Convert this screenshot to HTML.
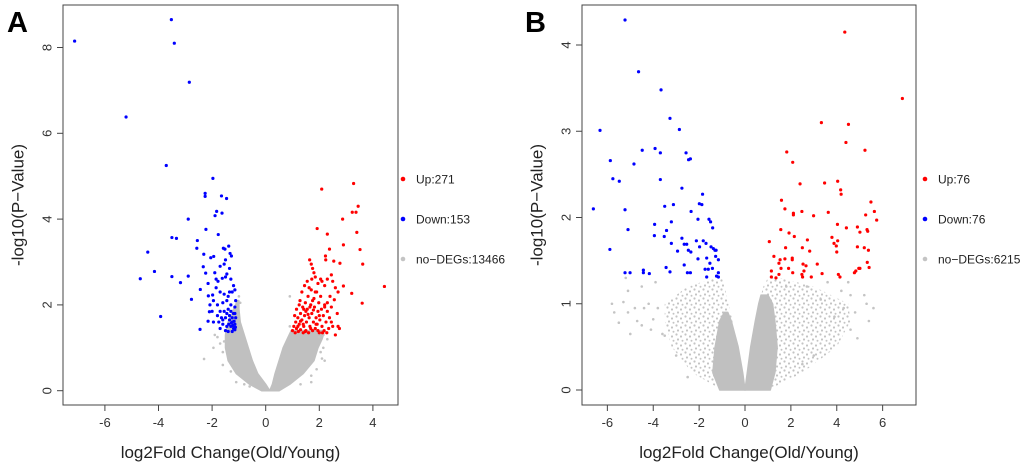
<!DOCTYPE html>
<html><head><meta charset="utf-8"><style>
html,body{margin:0;padding:0;background:#fff;}
svg{display:block;font-family:"Liberation Sans",Arial,sans-serif;}
</style></head><body>
<svg id="fig" width="1020" height="465" viewBox="0 0 1020 465">
<defs>
<pattern id="dotsB" width="9" height="9" patternUnits="userSpaceOnUse"><circle cx="1.5" cy="1.5" r="1.1" fill="#c4c4c4"/><circle cx="6" cy="3.5" r="1.1" fill="#c4c4c4"/><circle cx="3" cy="6.5" r="1.1" fill="#c4c4c4"/><circle cx="7.5" cy="7.8" r="1" fill="#c4c4c4"/></pattern>
</defs>
</svg>
<script>
// ---------- Panel A data ----------
const aXTicks = [-6,-4,-2,0,2,4];
const aYTicks = [0,2,4,6,8];
const aBlue = [[-7.13,8.15],[-3.52,8.65],[-3.41,8.10],[-2.85,7.19],[-5.21,6.38],[-3.71,5.25],[-1.97,4.95],[-2.26,4.6],[-2.26,4.53],[-1.65,4.54],[-1.46,4.48],[-1.83,4.18],[-1.63,4.14],[-1.89,4.08],[-2.89,4.0],[-2.23,3.76],[-1.77,3.64],[-4.40,3.23],[-3.50,3.57],[-3.33,3.55],[-2.55,3.5],[-2.57,3.32],[-2.31,3.18],[-2.05,3.10],[-1.94,3.13],[-1.38,3.37],[-1.58,3.32],[-1.52,3.3],[-1.33,3.2],[-1.28,3.14],[-4.15,2.78],[-4.68,2.61],[-3.50,2.66],[-3.18,2.52],[-2.89,2.67],[-2.77,2.13],[-3.92,1.73],[-2.45,1.43],[-2.15,1.62],[-2.33,2.89],[-2.24,2.74],[-2.44,2.36],[-2.14,2.21],[-1.98,2.23],[-2.08,2.0],[-2.1,1.84],
[-1.85,2.6],[-1.78,2.55],[-1.62,2.62],[-1.5,2.65],[-1.45,2.72],[-1.3,2.6],[-1.2,2.45],[-1.15,2.35],[-1.25,2.3],[-1.35,2.3],[-1.4,2.2],[-1.55,2.25],[-1.7,2.3],[-1.85,2.4],[-1.95,2.1],[-1.8,2.0],[-1.6,2.05],[-1.45,2.1],[-1.3,2.0],[-1.15,1.95],[-1.12,2.1],[-1.2,1.8],[-1.3,1.85],[-1.4,1.9],[-1.55,1.85],[-1.7,1.85],[-1.8,1.75],[-1.65,1.7],[-1.5,1.7],[-1.35,1.65],[-1.25,1.6],[-1.15,1.55],[-1.12,1.7],[-1.2,1.45],[-1.3,1.5],[-1.45,1.5],[-1.6,1.55],[-1.75,1.6],[-1.4,1.38],[-1.25,1.38],[-1.15,1.42],[-1.5,1.4],[-1.35,1.75],[-1.25,1.7],[-1.15,1.8],[-1.95,1.6],[-2.0,1.85],[-1.7,2.9],[-1.55,2.95],[-1.35,2.85],[-1.5,3.05],[-1.9,2.75],[-2.15,2.5],[-1.7,1.45],[-1.18,1.62],[-1.22,1.52],[-1.28,1.58],[-1.13,1.48],[-1.38,1.55],[-1.6,1.65],[-1.45,1.8]];
const aRed = [[2.09,4.70],[3.28,4.83],[3.45,4.30],[3.23,4.16],[3.37,4.16],[2.87,4.0],[1.92,3.78],[2.30,3.65],[3.40,3.69],[2.38,3.30],[2.90,3.40],[3.52,3.29],[2.23,3.14],[2.24,3.05],[2.54,3.02],[3.62,2.95],[2.77,2.97],[1.64,3.05],[4.43,2.43],[3.21,2.27],[3.60,2.04],[2.67,1.80],[2.90,2.44],[2.56,2.12],[1.7,2.95],[1.75,2.85],[1.8,2.75],[1.85,2.65],[1.95,2.5],[2.05,2.6],[2.1,2.55],[2.2,2.45],[2.3,2.6],[2.45,2.7],[2.5,2.55],[2.6,2.4],[2.7,2.3],[2.4,2.2],[2.3,2.05],[2.2,1.95],[2.45,1.95],[2.7,1.5],[2.75,1.45],[2.6,1.3],[2.5,1.5],[2.45,1.6],
[1.0,1.4],[1.05,1.5],[1.1,1.35],[1.12,1.6],[1.15,1.45],[1.2,1.7],[1.22,1.38],[1.25,1.55],[1.3,1.8],[1.3,1.42],[1.35,1.65],[1.38,1.95],[1.4,1.35],[1.42,1.5],[1.45,1.75],[1.48,2.05],[1.5,1.4],[1.52,1.6],[1.55,1.9],[1.58,2.2],[1.6,1.35],[1.62,1.7],[1.65,1.5],[1.68,2.0],[1.7,2.35],[1.72,1.8],[1.75,1.4],[1.78,1.6],[1.8,2.15],[1.82,1.95],[1.85,1.45],[1.88,1.7],[1.9,2.3],[1.92,1.55],[1.95,1.85],[1.98,2.05],[2.0,1.35],[2.02,1.65],[2.05,2.2],[2.08,1.9],[2.1,1.5],[2.15,1.75],[2.18,1.4],[2.2,2.0],[2.25,1.6],[2.3,1.85],[2.35,1.45],[2.38,1.7],[1.28,2.1],[1.35,2.3],[1.45,2.45],[1.55,2.55],[1.62,2.4],[1.72,2.6],[1.15,1.9],[1.25,2.0],[1.4,1.55],[1.5,1.85],[1.65,1.95],[1.75,2.1],[1.85,2.3],[1.95,1.4],[2.12,1.35],[1.08,1.75],[1.3,1.62],[1.48,1.38],[1.58,1.78],[1.68,1.45],[1.78,1.88],[1.88,1.55],[2.0,1.75],[2.28,1.35],[1.2,1.5],[1.42,1.9]];
const aLeftArmY = [0,0.15,0.4,0.7,1.0,1.3,1.6,1.9,2.1];
const aLeftArmOut = [-0.15,-0.6,-1.1,-1.4,-1.5,-1.5,-1.4,-1.2,-1.05];
const aLeftArmIn = [0.15,0.0,-0.3,-0.5,-0.65,-0.8,-0.95,-1.0,-1.0];
const aRightArmY = [0,0.15,0.4,0.7,1.0,1.2,1.4];
const aRightArmIn = [0.15,0.25,0.35,0.5,0.65,0.8,0.95];
const aRightArmOut = [0.5,0.9,1.4,1.8,1.95,2.1,2.2];
const aGrey = [[-2.3,0.74],[-1.95,1.0],[-1.9,1.3],[-1.8,1.25],[-1.7,1.1],[-1.6,0.9],[-1.6,0.6],[-1.3,0.45],[-1.1,0.2],[-0.8,0.15],[-0.6,0.1],[0.9,2.2],[0.9,1.5],[2.15,1.3],[2.15,1.0],[2.2,0.7],[2.1,0.75],[1.9,0.5],[1.7,0.2],[1.3,0.15],[2.0,1.25],[1.1,1.4],[-1.0,2.2],[-0.95,2.05],[1.7,0.35],[-1.55,1.15],[2.3,1.2],[2.05,0.9]];
// ---------- Panel B data ----------
const bXTicks = [-6,-4,-2,0,2,4,6];
const bYTicks = [0,1,2,3,4];
const bBlue = [[-5.23,4.29],[-4.64,3.69],[-3.66,3.48],[-3.27,3.15],[-2.86,3.02],[-6.32,3.01],[-3.92,2.80],[-3.69,2.75],[-4.48,2.78],[-2.57,2.75],[-2.38,2.68],[-2.46,2.67],[-5.87,2.66],[-4.84,2.62],[-5.76,2.45],[-5.48,2.42],[-3.69,2.44],[-2.75,2.34],[-1.85,2.27],[-1.99,2.16],[-1.88,2.15],[-3.50,2.13],[-3.12,2.15],[-6.61,2.10],[-5.23,2.09],[-2.35,2.07],[-2.05,1.98],[-1.57,1.98],[-1.50,1.95],[-3.94,1.92],[-3.21,1.95],[-1.41,1.88],[-5.10,1.86],[-3.42,1.85],[-3.95,1.79],[-3.52,1.78],[-2.75,1.76],[-3.21,1.70],[-2.65,1.69],[-2.54,1.69],[-2.12,1.73],[-1.82,1.73],[-1.70,1.70],[-1.98,1.66],[-1.48,1.66],[-1.38,1.64],[-1.31,1.62],[-1.26,1.62],[-5.89,1.63],[-2.94,1.61],[-2.47,1.62],[-2.36,1.60],[-1.28,1.55],[-1.16,1.51],[-2.05,1.52],[-1.67,1.53],[-1.53,1.47],[-2.65,1.45],[-3.44,1.42],[-1.42,1.41],[-1.74,1.40],[-1.60,1.40],[-4.43,1.39],[-4.43,1.36],[-4.17,1.35],[-3.27,1.37],[-5.23,1.36],[-5.01,1.36],[-2.51,1.36],[-2.38,1.36],[-1.16,1.36],[-1.67,1.31],[-1.24,1.32],[-1.16,1.31]];
const bRed = [[4.35,4.15],[6.86,3.38],[3.33,3.10],[4.51,3.08],[4.40,2.87],[1.82,2.76],[5.23,2.78],[2.08,2.64],[2.40,2.39],[3.47,2.40],[4.04,2.42],[4.17,2.32],[4.19,2.27],[1.59,2.20],[5.49,2.18],[1.74,2.10],[2.11,2.05],[2.11,2.03],[2.48,2.07],[3.63,2.06],[5.26,2.03],[5.64,2.07],[5.74,1.97],[2.99,2.02],[4.03,1.92],[4.42,1.88],[4.90,1.89],[1.56,1.86],[5.01,1.83],[5.32,1.86],[5.35,1.84],[1.92,1.82],[2.15,1.78],[3.79,1.77],[2.72,1.74],[4.04,1.73],[1.06,1.72],[3.88,1.70],[3.98,1.67],[1.77,1.65],[2.50,1.65],[4.90,1.66],[5.20,1.65],[2.82,1.61],[5.38,1.62],[4.00,1.60],[1.26,1.55],[2.06,1.53],[2.06,1.51],[1.53,1.51],[1.74,1.52],[1.48,1.47],[2.53,1.46],[3.15,1.46],[2.66,1.44],[1.90,1.41],[1.57,1.41],[5.33,1.48],[5.41,1.42],[4.96,1.41],[5.01,1.41],[4.83,1.38],[4.77,1.36],[1.15,1.38],[2.57,1.38],[2.08,1.36],[3.36,1.35],[2.48,1.34],[2.51,1.31],[1.48,1.34],[1.15,1.31],[2.89,1.31],[1.35,1.30],[4.07,1.34],[4.14,1.31]];
const bSparseLeftY = [0,0.2,0.5,0.8,1.0,1.2,1.3];
const bSparseLeftOut = [-1.0,-2.3,-3.2,-3.5,-3.5,-2.5,-1.3];
const bSparseLeftIn = [0.0,-0.1,-0.3,-0.55,-0.7,-0.9,-1.0];
const bSparseRightY = [0,0.2,0.5,0.8,1.0,1.2,1.3];
const bSparseRightIn = [0.0,0.1,0.25,0.45,0.6,0.8,1.0];
const bSparseRightOut = [1.0,2.5,4.0,4.6,4.5,3.0,1.5];
const bDenseLeftY = [0,0.2,0.5,0.8,0.9];
const bDenseLeftOut = [-1.1,-1.4,-1.3,-1.1,-0.9];
const bDenseLeftIn = [0,-0.1,-0.3,-0.6,-0.75];
const bDenseRightY = [0,0.2,0.5,0.8,1.0,1.1];
const bDenseRightIn = [0.0,0.1,0.25,0.45,0.6,0.7];
const bDenseRightOut = [1.1,1.3,1.4,1.3,1.2,1.0];
const bGrey = [[-5.8,1.0],[-5.5,0.78],[-5.3,1.02],[-5.1,0.9],[-5.1,1.15],[-5.0,0.65],[-4.7,0.8],[-4.5,0.75],[-4.4,0.95],[-4.2,1.0],[-4.0,0.82],[-3.8,0.95],[-3.6,0.65],[-3.9,1.25],[-3.5,0.63],[-4.1,0.7],[-5.2,1.3],[-4.5,1.2],[-5.7,0.9],[-4.8,0.95],[5.6,0.95],[5.4,0.8],[5.2,1.1],[5.3,1.0],[4.9,0.6],[4.6,0.7],[4.6,1.1],[4.2,1.15],[4.5,1.25],[3.6,1.25],[3.3,1.05],[2.7,1.2],[1.8,1.2],[4.8,0.9],[4.3,0.95],[3.9,0.85],[-3.0,0.4],[-2.5,0.15],[3.0,0.4],[2.5,0.3]];

const SVGNS="http://www.w3.org/2000/svg";
const svg=document.getElementById('fig');
function mk(tag,attrs,parent){const e=document.createElementNS(SVGNS,tag);for(const k in attrs)e.setAttribute(k,attrs[k]);(parent||svg).appendChild(e);return e;}

function panel(cfg){
  const g=mk('g',{});
  
  
  const sx=v=>cfg.x0+v*cfg.kx, sy=v=>cfg.y0-v*cfg.ky;
  const fr=mk('rect',{x:cfg.L,y:cfg.T,width:cfg.R-cfg.L,height:cfg.B-cfg.T,fill:'none',stroke:'#444','stroke-width':1},g);
  
  
  function arm(ys,a,b,fill,nm){
    let pts=[];
    for(let i=0;i<ys.length;i++)pts.push(sx(a[i])+','+sy(ys[i]));
    for(let i=ys.length-1;i>=0;i--)pts.push(sx(b[i])+','+sy(ys[i]));
    const solid=fill.charAt(0)==='#';
    const p=mk('polygon',{points:pts.join(' '),fill:fill,stroke:solid?fill:'none','stroke-width':1.5,'stroke-linejoin':'round'},g);
    
    
  }
  cfg.arms.forEach(a=>arm(a[0],a[1],a[2],a[3],a[4]));
  function pts(arr,col,nm,r){
    arr.forEach(d=>{const c=mk('circle',{cx:sx(d[0]),cy:sy(d[1]),r:r,fill:col},g);
      
      });
  }
  pts(cfg.grey,'#c4c4c4','nodeg-point',1.3);
  pts(cfg.blue,'#0000ff','down-point',1.6);
  pts(cfg.red,'#ff0000','up-point',1.6);
  cfg.xt.forEach(t=>{
    mk('line',{x1:sx(t),x2:sx(t),y1:cfg.B,y2:cfg.B+6,stroke:'#444'},g);
    const tx=mk('text',{x:sx(t),y:cfg.B+22,'text-anchor':'middle','font-size':13,fill:'#333'},g);
    tx.textContent=t;
    
    
  });
  mk('line',{x1:sx(cfg.xt[0]),x2:sx(cfg.xt[cfg.xt.length-1]),y1:cfg.B,y2:cfg.B,stroke:'#444'},g);
  cfg.yt.forEach(t=>{
    mk('line',{x1:cfg.L-6,x2:cfg.L,y1:sy(t),y2:sy(t),stroke:'#444'},g);
    const tx=mk('text',{x:cfg.L-16,y:sy(t),'text-anchor':'middle','font-size':13,fill:'#333',transform:`rotate(-90 ${cfg.L-16} ${sy(t)})`,'dominant-baseline':'central'},g);
    tx.textContent=t;
    
    
  });
  const xt=mk('text',{x:(cfg.L+cfg.R)/2,y:458,'text-anchor':'middle','font-size':17,fill:'#222'},g);
  xt.textContent='log2Fold Change(Old/Young)';
  
  
  const yt=mk('text',{x:cfg.L-45,y:205,'text-anchor':'middle','font-size':17,fill:'#222',transform:`rotate(-90 ${cfg.L-45} 205)`,'dominant-baseline':'central'},g);
  yt.textContent='-log10(P\u2212Value)';
  
  
  const lb=mk('text',{x:cfg.lblX,y:32,'font-size':29,'font-weight':'bold',fill:'#000'},g);
  lb.textContent=cfg.label;
  
  
  cfg.legend.forEach((l,i)=>{
    const y=179+40*i;
    const c=mk('circle',{cx:cfg.legX,cy:y,r:2.3,fill:l[1]},g);
    
    
    const t=mk('text',{x:cfg.legX+13,y:y+4.5,'font-size':12,fill:'#222'},g);
    t.textContent=l[0];
    
    
  });
}

panel({name:'panel-a',label:'A',lblX:7,L:63,R:398,T:5,B:405,x0:265.7,kx:26.8,y0:390.7,ky:42.9,
  xt:aXTicks,yt:aYTicks,blue:aBlue,red:aRed,grey:aGrey,
  arms:[[aLeftArmY,aLeftArmOut,aLeftArmIn,'#c0c0c0','grey-left-arm'],[aRightArmY,aRightArmIn,aRightArmOut,'#c0c0c0','grey-right-arm']],
  legX:403,legend:[['Up:271','#ff0000'],['Down:153','#0000ff'],['no\u2212DEGs:13466','#c4c4c4']]});
panel({name:'panel-b',label:'B',lblX:525,L:582,R:916,T:5,B:405,x0:745,kx:22.94,y0:390,ky:86.25,
  xt:bXTicks,yt:bYTicks,blue:bBlue,red:bRed,grey:bGrey,
  arms:[[bSparseLeftY,bSparseLeftOut,bSparseLeftIn,'url(#dotsB)','grey-left-sparse'],[bSparseRightY,bSparseRightIn,bSparseRightOut,'url(#dotsB)','grey-right-sparse'],
        [bDenseLeftY,bDenseLeftOut,bDenseLeftIn,'#c0c0c0','grey-left-dense'],[bDenseRightY,bDenseRightIn,bDenseRightOut,'#c0c0c0','grey-right-dense']],
  legX:925,legend:[['Up:76','#ff0000'],['Down:76','#0000ff'],['no\u2212DEGs:6215','#c4c4c4']]});
</script>
</body></html>
